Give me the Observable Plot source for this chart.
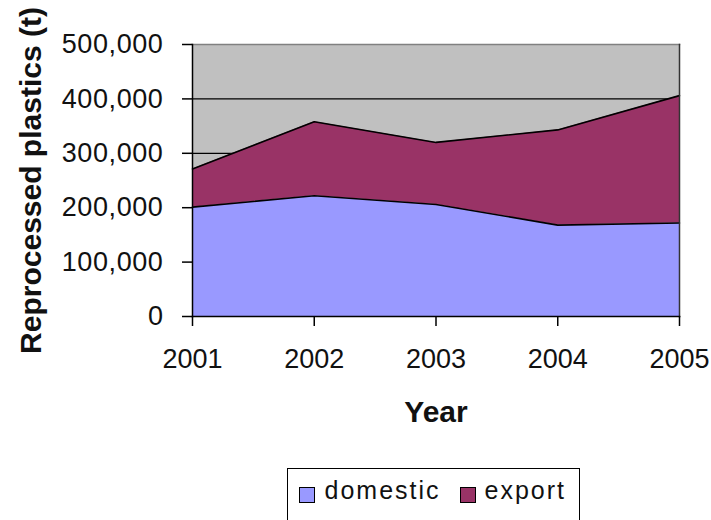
<!DOCTYPE html>
<html>
<head>
<meta charset="utf-8">
<script src="https://cdn.jsdelivr.net/npm/d3@7"></script>
<script src="https://cdn.jsdelivr.net/npm/@observablehq/plot@0.6"></script>
<style>
  html, body { margin: 0; padding: 0; background: #ffffff; }
  body { width: 711px; height: 520px; overflow: hidden; position: relative; font-family: "Liberation Sans", Arial, sans-serif; }
  #chart svg { display: block; }
  #legend { position: absolute; left: 287px; top: 468px; width: 291px; height: 70px; border: 1.5px solid #000; background: #fff; }
  #legend .sw { position: absolute; width: 14px; height: 14px; border: 1px solid #000; top: 17.5px; }
  #legend .lb { position: absolute; top: 9px; font-size: 25px; line-height: 25px; letter-spacing: 2px; color: #111; white-space: nowrap; }
</style>
</head>
<body>
<div id="chart"></div>
<div id="legend"></div>
<script>
const years = [2001, 2002, 2003, 2004, 2005];
const seriesNames = ["domestic", "export"];
const domestic = [201000, 222000, 206000, 168000, 172000];
const exported = [70000, 136000, 114000, 175000, 234000];
const seriesColors = ["#9999ff", "#993366"];
const yTicks = [0, 100000, 200000, 300000, 400000, 500000];
const xLabel = "Year";
const yLabel = "Reprocessed plastics (t)";

const data = [];
years.forEach((yr, i) => {
  data.push({year: yr, series: "domestic", value: domestic[i]});
  data.push({year: yr, series: "export", value: exported[i]});
});

const font = "Liberation Sans, Arial, sans-serif";

const plot = Plot.plot({
  width: 711,
  height: 460,
  marginLeft: 192,
  marginRight: 32,
  marginTop: 44,
  marginBottom: 144,
  style: {fontFamily: font, background: "#ffffff", color: "#000"},
  x: {domain: [2001, 2005]},
  y: {domain: [0, 500000]},
  color: {domain: seriesNames, range: seriesColors},
  marks: [
    Plot.frame({fill: "#c0c0c0"}),
    Plot.gridY(yTicks, {stroke: "#000", strokeOpacity: 1, strokeWidth: 1.2}),
    Plot.areaY(data, {x: "year", y: "value", fill: "series", order: seriesNames}),
    Plot.lineY(data, Plot.stackY2({x: "year", y: "value", z: "series", order: seriesNames, stroke: "#000", strokeWidth: 1.6})),
    Plot.frame({anchor: "top", stroke: "#808080", strokeWidth: 1.5}),
    Plot.frame({anchor: "right", stroke: "#333", strokeWidth: 1.5}),
    Plot.frame({anchor: "left", stroke: "#000", strokeWidth: 1.5}),
    Plot.frame({anchor: "bottom", stroke: "#000", strokeWidth: 1.5}),
    Plot.axisY({ticks: yTicks, tickFormat: d3.format(","), tickSize: 10, tickPadding: 19, fontSize: 27, label: null, stroke: "#000", strokeWidth: 1.5, fill: "#111"}),
    Plot.axisX({ticks: years, tickFormat: "d", tickSize: 10, tickPadding: 22, fontSize: 27, label: null, stroke: "#000", strokeWidth: 1.5, fill: "#111"}),
    Plot.text([xLabel], {frameAnchor: "bottom", dy: 96, fontSize: 30, fontWeight: "bold", fill: "#111", lineAnchor: "middle", textAnchor: "middle"}),
    Plot.text([yLabel], {frameAnchor: "left", dx: -161, rotate: -90, fontSize: 30, fontWeight: "bold", fill: "#111", lineAnchor: "middle", textAnchor: "middle"})
  ]
});
document.getElementById("chart").appendChild(plot);
d3.select(plot).selectAll('[aria-label="y-axis tick label"] text').style("letter-spacing", "0.6px");

const legend = d3.select("#legend");
const swLeft = [10.5, 171.5];
const lbLeft = [36.5, 196.5];
seriesNames.forEach((s, i) => {
  legend.append("div").attr("class", "sw").style("left", swLeft[i] + "px").style("background", seriesColors[i]);
  legend.append("div").attr("class", "lb").style("left", lbLeft[i] + "px").text(s);
});
</script>
</body>
</html>
